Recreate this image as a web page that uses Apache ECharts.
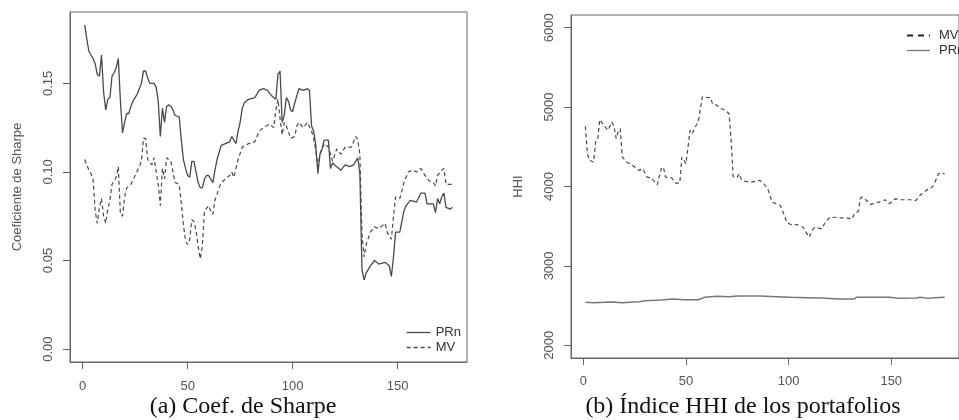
<!DOCTYPE html>
<html>
<head>
<meta charset="utf-8">
<script src="https://cdn.jsdelivr.net/npm/echarts@6/dist/echarts.min.js"></script>
<style>
html,body{margin:0;padding:0;background:#fff;}
#c{width:959px;height:420px;}
</style>
</head>
<body>
<div id="c"></div>
<script>
// ---- Data (panel a: Sharpe ratio) ----
const sharpeTicksX = [0, 50, 100, 150];
const sharpeTicksY = [0, 0.05, 0.10, 0.15];
const sharpePRn = [[1,0.183],[2,0.175],[3,0.168],[4,0.166],[5,0.164],[6,0.161],[7,0.155],[8,0.154],[9,0.166],[10,0.145],[11,0.135],[12,0.141],[13,0.142],[14,0.154],[15,0.156],[16,0.159],[17,0.164],[18,0.140],[19,0.122],[20,0.128],[21,0.133],[22,0.133],[23,0.137],[24,0.140],[25,0.142],[26,0.144],[27,0.147],[28,0.150],[29,0.157],[30,0.157],[31,0.153],[32,0.150],[34,0.150],[35,0.148],[36,0.140],[37,0.120],[38,0.136],[39,0.128],[40,0.137],[41,0.138],[42,0.137],[43,0.135],[44,0.132],[46,0.131],[47,0.118],[48,0.107],[49,0.102],[50,0.098],[51,0.097],[52,0.106],[53,0.106],[54,0.100],[55,0.094],[56,0.091],[57,0.091],[58,0.096],[59,0.098],[60,0.098],[61,0.096],[62,0.094],[63,0.101],[64,0.107],[65,0.111],[66,0.115],[68,0.116],[70,0.117],[71,0.120],[72,0.118],[73,0.116],[74,0.123],[75,0.128],[76,0.136],[77,0.139],[79,0.141],[82,0.142],[84,0.146],[86,0.147],[88,0.146],[90,0.143],[92,0.141],[93,0.155],[94,0.157],[95,0.128],[96,0.132],[97,0.142],[98,0.140],[99,0.135],[100,0.134],[101,0.139],[102,0.143],[103,0.147],[105,0.146],[107,0.147],[108,0.146],[109,0.126],[110,0.123],[111,0.115],[112,0.099],[113,0.110],[114,0.113],[115,0.118],[117,0.118],[118,0.102],[119,0.105],[121,0.103],[123,0.101],[125,0.104],[127,0.103],[129,0.104],[131,0.108],[132,0.099],[133,0.045],[134,0.039],[135,0.043],[137,0.047],[139,0.050],[141,0.048],[144,0.049],[146,0.047],[147,0.041],[148,0.052],[149,0.066],[151,0.066],[153,0.078],[154,0.081],[156,0.084],[159,0.083],[161,0.088],[163,0.088],[164,0.082],[167,0.082],[168,0.077],[169,0.085],[170,0.082],[171,0.086],[172,0.088],[173,0.080],[175,0.079],[176,0.080]];
const sharpeMV = [[1,0.107],[2,0.104],[3,0.101],[4,0.099],[5,0.096],[6,0.078],[7,0.071],[8,0.080],[9,0.085],[10,0.075],[11,0.071],[12,0.079],[13,0.084],[14,0.093],[15,0.095],[16,0.097],[17,0.103],[18,0.076],[19,0.075],[20,0.086],[21,0.091],[23,0.093],[25,0.098],[27,0.103],[28,0.106],[29,0.119],[30,0.119],[31,0.107],[33,0.104],[34,0.108],[36,0.093],[37,0.081],[38,0.102],[39,0.096],[40,0.108],[42,0.106],[44,0.094],[46,0.093],[47,0.082],[48,0.070],[49,0.061],[50,0.059],[51,0.062],[52,0.073],[53,0.072],[54,0.067],[55,0.058],[56,0.051],[57,0.058],[58,0.078],[60,0.081],[61,0.078],[62,0.076],[63,0.084],[65,0.091],[66,0.094],[68,0.096],[70,0.098],[71,0.100],[72,0.097],[73,0.102],[74,0.107],[76,0.114],[79,0.116],[82,0.117],[84,0.123],[86,0.125],[89,0.127],[91,0.125],[92,0.135],[93,0.141],[94,0.130],[95,0.121],[96,0.128],[97,0.126],[99,0.119],[101,0.120],[102,0.126],[103,0.128],[105,0.125],[107,0.128],[109,0.123],[110,0.119],[111,0.112],[112,0.103],[113,0.110],[115,0.116],[117,0.114],[118,0.110],[119,0.106],[121,0.113],[123,0.110],[125,0.114],[128,0.114],[130,0.120],[131,0.118],[132,0.110],[133,0.065],[134,0.052],[135,0.059],[137,0.066],[139,0.069],[141,0.068],[144,0.071],[145,0.066],[147,0.062],[148,0.075],[149,0.086],[151,0.085],[153,0.094],[155,0.100],[157,0.101],[159,0.100],[161,0.102],[163,0.098],[165,0.095],[167,0.094],[168,0.092],[169,0.098],[171,0.101],[172,0.102],[173,0.093],[176,0.093]];

// ---- Data (panel b: HHI) ----
const hhiTicksX = [0, 50, 100, 150];
const hhiTicksY = [2000, 3000, 4000, 5000, 6000];
const hhiMV = [[1,4759],[2,4414],[3,4330],[5,4309],[6,4561],[7,4582],[8,4843],[10,4772],[12,4708],[14,4813],[15,4750],[16,4603],[17,4690],[18,4729],[19,4372],[21,4309],[24,4266],[27,4203],[29,4224],[31,4119],[33,4110],[36,4022],[38,4224],[39,4245],[40,4119],[43,4110],[45,4043],[47,4043],[48,4372],[50,4287],[52,4708],[53,4666],[55,4772],[56,4813],[58,5129],[60,5121],[62,5121],[63,5036],[65,5024],[67,4982],[69,4961],[71,4919],[72,4582],[73,4119],[75,4119],[76,4161],[77,4085],[79,4064],[82,4056],[86,4077],[88,4035],[90,3959],[92,3803],[94,3782],[96,3761],[98,3634],[99,3550],[101,3521],[104,3521],[107,3487],[109,3403],[110,3361],[112,3467],[113,3487],[116,3467],[118,3550],[120,3613],[122,3613],[125,3605],[128,3605],[131,3592],[132,3655],[134,3689],[135,3858],[136,3866],[138,3824],[140,3774],[144,3803],[147,3833],[149,3782],[152,3845],[155,3833],[159,3833],[162,3824],[164,3887],[167,3951],[170,3993],[171,4035],[173,4161],[175,4169],[176,4153]];
const hhiPRn = [[1,2541],[5,2537],[10,2541],[14,2545],[19,2537],[24,2545],[27,2549],[30,2562],[35,2566],[38,2570],[44,2583],[49,2574],[56,2574],[59,2604],[62,2612],[65,2617],[71,2612],[75,2620],[86,2620],[94,2612],[101,2604],[109,2600],[116,2596],[124,2583],[132,2583],[133,2604],[141,2604],[149,2604],[154,2591],[162,2596],[164,2604],[168,2591],[171,2600],[176,2604]];

const AX = '#666', TX = '#555', LN = '#4a4a4a';
const SANS = 'Liberation Sans, Arial, sans-serif';
const SERIF = 'Liberation Serif, Times New Roman, serif';
const tickFont = {color: TX, fontSize: 13, fontFamily: SANS};

function xAxisCfg(grid, ticks, margin) {
  return {
    type: 'value', gridIndex: grid, min: -6, max: 183, position: 'bottom',
    axisLine: {show: true, onZero: false, lineStyle: {color: AX, width: 1}},
    axisTick: {show: true, inside: false, length: 7, customValues: ticks, lineStyle: {color: AX}},
    axisLabel: Object.assign({customValues: ticks, margin: margin}, tickFont),
    splitLine: {show: false}
  };
}
function yAxisCfg(grid, min, max, ticks, fmt, name) {
  return {
    type: 'value', gridIndex: grid, min: min, max: max, position: 'left',
    name: name, nameLocation: 'middle', nameGap: 46, nameRotate: 90,
    nameTextStyle: {color: TX, fontSize: 13, fontFamily: SANS},
    axisLine: {show: true, onZero: false, lineStyle: {color: AX, width: 1}},
    axisTick: {show: true, inside: false, length: 7, customValues: ticks, lineStyle: {color: AX}},
    axisLabel: Object.assign({customValues: ticks, margin: 15, rotate: 90, formatter: fmt}, tickFont),
    splitLine: {show: false}
  };
}

const hiddenSymbol = {opacity: 0, color: 'transparent', borderWidth: 0};

const option = {
  animation: false,
  backgroundColor: '#fff',
  title: [
    {text: '(a) Coef. de Sharpe', left: 238, top: 390, textAlign: 'center',
     textStyle: {fontFamily: SERIF, fontWeight: 'normal', fontSize: 24, color: '#111'}},
    {text: '(b) Índice HHI de los portafolios', left: 738, top: 390, textAlign: 'center',
     textStyle: {fontFamily: SERIF, fontWeight: 'normal', fontSize: 24, color: '#111'}}
  ],
  grid: [
    {left: 70, top: 12, width: 397, height: 350, show: true, borderColor: AX, borderWidth: 1, containLabel: false},
    {left: 571, top: 15, width: 397, height: 343, show: true, borderColor: AX, borderWidth: 1, containLabel: false}
  ],
  xAxis: [xAxisCfg(0, sharpeTicksX, 18), xAxisCfg(1, hhiTicksX, 17)],
  yAxis: [
    yAxisCfg(0, -0.0073, 0.1903, sharpeTicksY, v => v.toFixed(2), 'Coeficiente de Sharpe'),
    yAxisCfg(1, 1840, 6160, hhiTicksY, v => String(v), 'HHI')
  ],
  legend: [
    {orient: 'vertical', left: 401, top: 321, itemWidth: 24, itemHeight: 14, itemGap: 2,
     itemStyle: hiddenSymbol,
     textStyle: {color: '#333', fontSize: 13, fontFamily: SANS},
     data: [
       {name: 'PRn', itemStyle: hiddenSymbol, lineStyle: {color: LN, width: 1.3, type: 'solid'}},
       {name: 'MV', itemStyle: hiddenSymbol, lineStyle: {color: LN, width: 1.3, type: [4,3]}}
     ]},
    {orient: 'vertical', left: 901, top: 24, itemWidth: 23, itemHeight: 14, itemGap: 2,
     itemStyle: hiddenSymbol,
     formatter: n => n.replace(' (b)', ''),
     textStyle: {color: '#333', fontSize: 13, fontFamily: SANS, padding: [0,0,0,4]},
     data: [
       {name: 'MV (b)', itemStyle: hiddenSymbol, lineStyle: {color: '#222', width: 2, type: [6,5]}},
       {name: 'PRn (b)', itemStyle: hiddenSymbol, lineStyle: {color: '#777', width: 1.3, type: 'solid'}}
     ]}
  ],
  series: [
    {name: 'PRn', type: 'line', xAxisIndex: 0, yAxisIndex: 0, data: sharpePRn, showSymbol: false, symbol: 'none',
     lineStyle: {color: LN, width: 1.3}, itemStyle: {color: LN}},
    {name: 'MV', type: 'line', xAxisIndex: 0, yAxisIndex: 0, data: sharpeMV, showSymbol: false, symbol: 'none',
     lineStyle: {color: LN, width: 1.2, type: [4,3]}, itemStyle: {color: LN}},
    {name: 'MV (b)', type: 'line', xAxisIndex: 1, yAxisIndex: 1, data: hhiMV, showSymbol: false, symbol: 'none',
     lineStyle: {color: LN, width: 1.2, type: [4,3]}, itemStyle: {color: LN}},
    {name: 'PRn (b)', type: 'line', xAxisIndex: 1, yAxisIndex: 1, data: hhiPRn, showSymbol: false, symbol: 'none',
     lineStyle: {color: '#777', width: 1.5}, itemStyle: {color: '#777'}}
  ]
};

const chart = echarts.init(document.getElementById('c'), null, {renderer: 'canvas'});
chart.setOption(option);
</script>
</body>
</html>
